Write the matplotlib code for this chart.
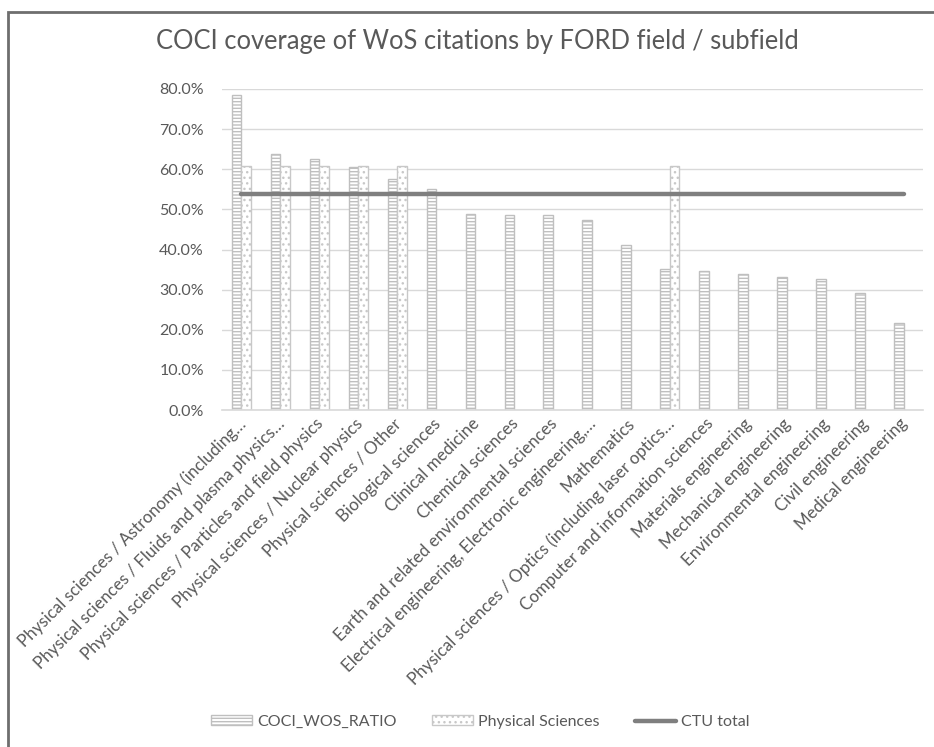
import matplotlib
matplotlib.use("Agg")
import matplotlib.pyplot as plt
import matplotlib.transforms as mtransforms
import numpy as np
from matplotlib.patches import Patch, Rectangle
from matplotlib.lines import Line2D
from matplotlib.ticker import PercentFormatter

plt.rcParams["font.family"] = ["Lato", "DejaVu Sans"]
plt.rcParams["hatch.linewidth"] = 1.0

# Chart data
categories = [
    "Physical sciences / Astronomy (including…",
    "Physical sciences / Fluids and plasma physics…",
    "Physical sciences / Particles and field physics",
    "Physical sciences / Nuclear physics",
    "Physical sciences / Other",
    "Biological sciences",
    "Clinical medicine",
    "Chemical sciences",
    "Earth and related environmental sciences",
    "Electrical engineering, Electronic engineering,…",
    "Mathematics",
    "Physical sciences / Optics (including laser optics…",
    "Computer and information sciences",
    "Materials engineering",
    "Mechanical engineering",
    "Environmental engineering",
    "Civil engineering",
    "Medical engineering",
]
coci_wos_ratio = [78.4, 63.8, 62.5, 60.5, 57.6, 55.2, 48.8, 48.6, 48.6, 47.3,
                  41.1, 35.2, 34.7, 33.8, 33.2, 32.6, 29.2, 21.7]
physical_sciences = [60.8, 60.8, 60.8, 60.8, 60.8, None, None, None, None, None,
                     None, 60.8, None, None, None, None, None, None]
ctu_total = 53.9

TEXT = "#595959"
GRID = "#d9d9d9"
BAR_EDGE = "#bfbfbf"
LINE = "#7f7f7f"

W, H = 934, 747
fig = plt.figure(figsize=(W / 100, H / 100), dpi=100)
ax = fig.add_axes([222 / W, (H - 410) / H, (923 - 222) / W, (410 - 89) / H])

x = np.arange(len(categories))
bw = 0.245
ps_vals = [np.nan if v is None else v for v in physical_sciences]

ax.bar(x - bw / 2, coci_wos_ratio, width=bw, facecolor="white",
       edgecolor=BAR_EDGE, hatch="-----", linewidth=1.0, zorder=2)
ax.bar(x + bw / 2, ps_vals, width=bw, facecolor="white",
       edgecolor="#c8c8c8", hatch="...", linewidth=1.0, zorder=2)
ax.plot(x, [ctu_total] * len(x), color=LINE, linewidth=3.2,
        solid_capstyle="round", zorder=3)

ax.set_xlim(-0.5, len(categories) - 0.5)
ax.set_ylim(0, 80)
ax.set_yticks(np.arange(0, 81, 10))
ax.yaxis.set_major_formatter(PercentFormatter(decimals=1))
ax.grid(axis="y", color=GRID, linewidth=1.0, zorder=0)
ax.set_axisbelow(True)
for side in ["top", "right", "left"]:
    ax.spines[side].set_visible(False)
ax.spines["bottom"].set_color(GRID)
ax.spines["bottom"].set_linewidth(1.2)

ax.set_xticks(x)
ax.set_xticklabels(categories, rotation=45, ha="right", rotation_mode="anchor",
                   fontsize=12.2, color=TEXT)
ax.tick_params(axis="x", length=0, pad=4)
ax.tick_params(axis="y", length=0, pad=13, labelsize=11.5, labelcolor=TEXT)
shift = mtransforms.ScaledTranslation(-4 / 100, 0, fig.dpi_scale_trans)
for lab in ax.get_xticklabels():
    lab.set_transform(lab.get_transform() + shift)

fig.text(477 / W, 1 - 42 / H, "COCI coverage of WoS citations by FORD field / subfield",
         ha="center", va="center", fontsize=18.4, color=TEXT)

handles = [
    Patch(facecolor="white", edgecolor=BAR_EDGE, hatch="-----", linewidth=1.0),
    Patch(facecolor="white", edgecolor="#c8c8c8", hatch="...", linewidth=1.0),
    Line2D([0], [0], color=LINE, linewidth=3.2, solid_capstyle="round"),
]
labels = ["COCI_WOS_RATIO", "Physical Sciences", "CTU total"]
fig.legend(handles, labels, loc="center", bbox_to_anchor=(480 / W, 1 - 722 / H),
           ncol=3, frameon=False, fontsize=11.5, labelcolor=TEXT,
           handlelength=2.6, handleheight=0.6, handletextpad=0.3,
           columnspacing=2.2)

# chart area border (only left and top edges fall inside the image)
fig.add_artist(Rectangle((8 / W, -0.1), 1.2, 1 - 12 / H + 0.1,
                         transform=fig.transFigure, fill=False,
                         edgecolor="#6e6e6e", linewidth=2.0))

fig.savefig("out.png", dpi=100)
